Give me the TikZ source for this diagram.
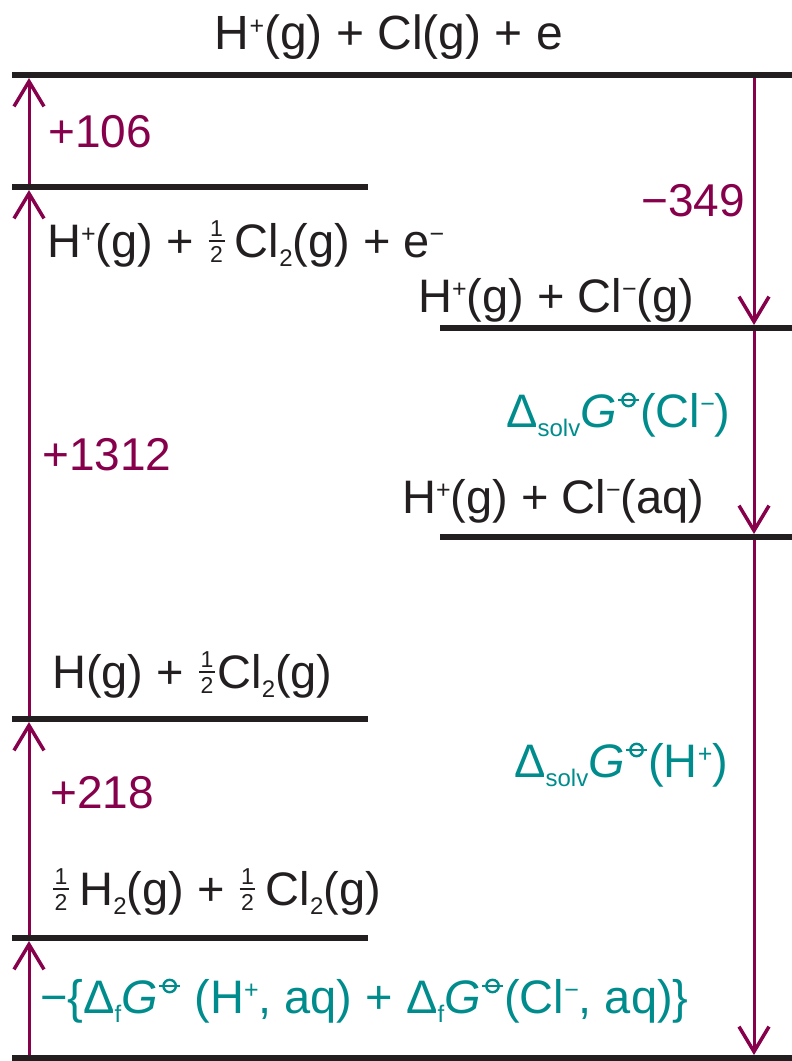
\documentclass[tikz,border=0pt]{standalone}
\usepackage{fontspec}
\setmainfont{Liberation Sans}
\usetikzlibrary{arrows.meta}
\definecolor{arr}{RGB}{135,0,75}
\definecolor{tl}{RGB}{0,140,140}
\definecolor{lvl}{RGB}{35,31,32}
\newcommand\sups[1]{\raisebox{15pt}{\fontsize{25}{25}\selectfont #1}}
\newcommand\subs[1]{\raisebox{-9pt}{\fontsize{24}{24}\selectfont #1}}
\newcommand\half{\mbox{\fontsize{23}{23}\selectfont\kern2pt\rlap{\kern1.5pt\raisebox{21pt}{1}}\rlap{\rule[15pt]{15.8pt}{1.6pt}}\kern1.5pt\raisebox{-5pt}{2}\kern4pt}}
\newcommand\plim{\tikz[baseline=0pt,x=1pt,y=1pt,line width=2.4pt]{\draw[tl] (0,27) circle (6.2); \draw[tl] (-10.5,27) -- (10.5,27); \path (-11.5,0) (11.5,0);}}
\tikzset{
  level/.style={line width=6pt, lvl},
  arrow/.style={arr, line width=3pt, -{Straight Barb[length=25pt,width=30pt,line width=3.5pt]}},
  spec/.style={inner sep=0pt, anchor=base west, text=lvl, font=\fontsize{47}{56}\selectfont},
  num/.style={spec, text=arr, font=\fontsize{46}{56}\selectfont},
  gl/.style={spec, text=tl, font=\fontsize{47}{54}\selectfont},
}
\begin{document}
\begin{tikzpicture}[x=1pt,y=-1pt]
\useasboundingbox (0,0) rectangle (792,1061);
% arrow coordinates
\coordinate (lb) at (29,1058);
\coordinate (l1) at (29,941);
\coordinate (l2) at (29,722);
\coordinate (l3) at (29,190);
\coordinate (l4) at (29,78);
\coordinate (rt) at (754,75);
\coordinate (r1) at (754,325);
\coordinate (r2) at (754,534);
\coordinate (rb) at (754,1055);
% arrows
\draw[arrow] (lb) -- (l1);
\draw[arrow] (l1) -- (l2);
\draw[arrow] (l2) -- (l3);
\draw[arrow] (l3) -- (l4);
\draw[arrow] (rt) -- (r1);
\draw[arrow] (r1) -- (r2);
\draw[arrow] (r2) -- (rb);
% levels
\draw[level] (12,75) -- (792,75);
\draw[level] (12,187) -- (368,187);
\draw[level] (440,328) -- (792,328);
\draw[level] (440,537) -- (792,537);
\draw[level] (12,719) -- (368,719);
\draw[level] (12,938) -- (368,938);
\draw[level] (12,1058) -- (792,1058);
% texts
\node[spec, anchor=base, font=\fontsize{48}{56}\selectfont] (t0) at (389,49) {H\sups{+}(g) + Cl(g) + e};
\node[num] (n106) at (48,147) {+106};
\node[spec] (t1) at (47,257) {H\sups{+}(g) + \half\,Cl\subs{2}(g) + e\sups{−}};
\node[num, anchor=base east] (n349) at (745,216) {−349};
\node[spec] (t2) at (418,312) {H\sups{+}(g) + Cl\sups{−}(g)};
\node[gl] (g1) at (506,427) {Δ\subs{solv}\textit{G}\plim(Cl\sups{−})};
\node[spec] (t3) at (402,513) {H\sups{+}(g) + Cl\sups{−}(aq)};
\node[num] (n1312) at (42,470) {+1312};
\node[spec] (t4) at (52,688) {H(g) + \half Cl\subs{2}(g)};
\node[gl] (g2) at (514,777) {Δ\subs{solv}\textit{G}\plim(H\sups{+})};
\node[num] (n218) at (50,808) {+218};
\node[spec] (t5) at (51,905) {\half\,H\subs{2}(g) + \half\,Cl\subs{2}(g)};
\node[gl] (g3) at (40,1013) {−\{Δ\subs{f}\textit{G}\plim\ (H\sups{+}, aq) + Δ\subs{f}\textit{G}\plim(Cl\sups{−}, aq)\}};
\end{tikzpicture}
\end{document}
